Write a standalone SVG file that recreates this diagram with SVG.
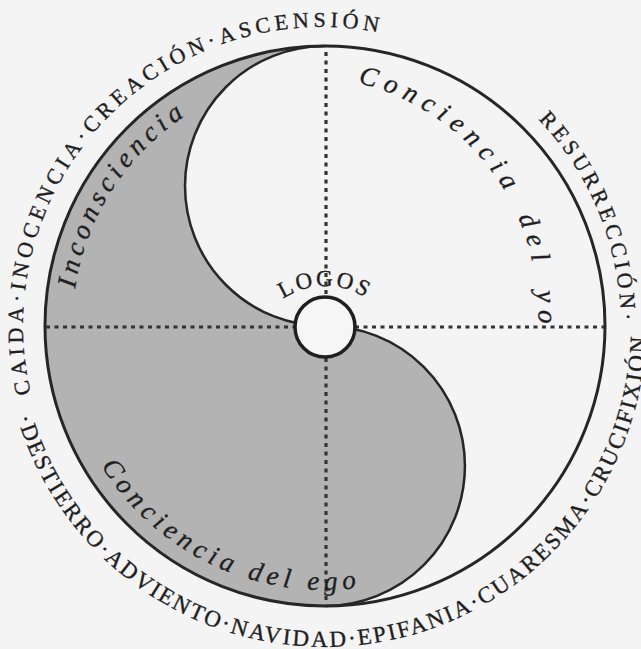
<svg xmlns="http://www.w3.org/2000/svg" xmlns:xlink="http://www.w3.org/1999/xlink" width="641" height="649" viewBox="0 0 641 649">
<style>
.ring{font-family:"Liberation Serif","Times New Roman",serif;font-size:22px;fill:#1f1f1f;stroke:#1f1f1f;stroke-width:0.35px;letter-spacing:4.4px}
.ital{font-family:"Liberation Serif","Times New Roman",serif;font-style:italic;font-size:27px;fill:#1f1f1f;stroke:#1f1f1f;stroke-width:0.35px}
.dot{fill:none;stroke:#333;stroke-width:3.2;stroke-dasharray:4 4.5}
.line{fill:none;stroke:#262626}
</style>
<defs>
<path id="pTop" d="M 52.7 455.9 A 299 299 0 0 1 444.8 53.4"/>
<path id="pRes" d="M 363.6 29.9 A 299 299 0 0 1 557.6 510.1"/>
<path id="pBot" d="M 4.3 340.0 A 321 321 0 1 0 638.4 256.5"/>
<path id="pInc" d="M 100.4 441.5 A 252 252 0 0 1 338.2 74.3"/>
<path id="pYo" d="M 345 80 C 450 100 545 190 538 335"/>
<path id="pEgo" d="M 62.0 303.0 A 264 264 0 0 0 511.7 512.7"/>
<path id="pLogos" d="M 253.6 336.0 A 76 76 0 0 1 396.4 336.0"/>
</defs>
<rect x="0" y="0" width="641" height="649" fill="#f4f4f4"/>
<g id="disc">
<path id="shade" d="M 325 46 A 280 280 0 0 0 325 606 A 140 140 0 0 0 325 326 A 140 140 0 0 1 325 46 Z" fill="#b3b3b3"/>
<path class="line" stroke-width="2.5" d="M 325 606 A 140 140 0 0 0 325 326 A 140 140 0 0 1 325 46"/>
<circle class="line" stroke-width="3" cx="325" cy="326" r="280"/>
</g>
<g id="connectors">
<line class="dot" x1="46" y1="327" x2="295" y2="327"/>
<line class="dot" x1="355" y1="327" x2="604" y2="327"/>
<line class="dot" x1="326" y1="52" x2="326" y2="297"/>
<line class="dot" x1="326" y1="358" x2="326" y2="604"/>
</g>
<g id="logos">
<circle cx="325" cy="327" r="30" fill="#f6f6f6" stroke="#1f1f1f" stroke-width="3.5"/>
<text class="ring" style="font-size:23px;letter-spacing:2.5px"><textPath href="#pLogos" xlink:href="#pLogos" startOffset="50%" text-anchor="middle">LOGOS</textPath></text>
</g>
<g id="ring-text">
<text class="ring"><textPath href="#pTop" xlink:href="#pTop" startOffset="50%" text-anchor="middle">CAIDA·INOCENCIA·CREACIÓN·ASCENSIÓN</textPath></text>
<text class="ring" style="letter-spacing:4px"><textPath href="#pRes" xlink:href="#pRes" startOffset="50%" text-anchor="middle">RESURRECCIÓN·</textPath></text>
<text class="ring" style="font-size:23px;letter-spacing:2.3px"><textPath href="#pBot" xlink:href="#pBot" startOffset="50%" text-anchor="middle">·DESTIERRO·ADVIENTO·NAVIDAD·EPIFANIA·CUARESMA·CRUCIFIXIÓN</textPath></text>
</g>
<g id="labels">
<text class="ital" style="letter-spacing:5px"><textPath href="#pInc" xlink:href="#pInc" startOffset="50%" text-anchor="middle">Inconsciencia</textPath></text>
<text class="ital" style="letter-spacing:7.2px;word-spacing:8px"><textPath href="#pYo" xlink:href="#pYo" startOffset="13">Conciencia del yo</textPath></text>
<text class="ital" style="letter-spacing:5.3px"><textPath href="#pEgo" xlink:href="#pEgo" startOffset="50%" text-anchor="middle">Conciencia del ego</textPath></text>
</g>
</svg>
